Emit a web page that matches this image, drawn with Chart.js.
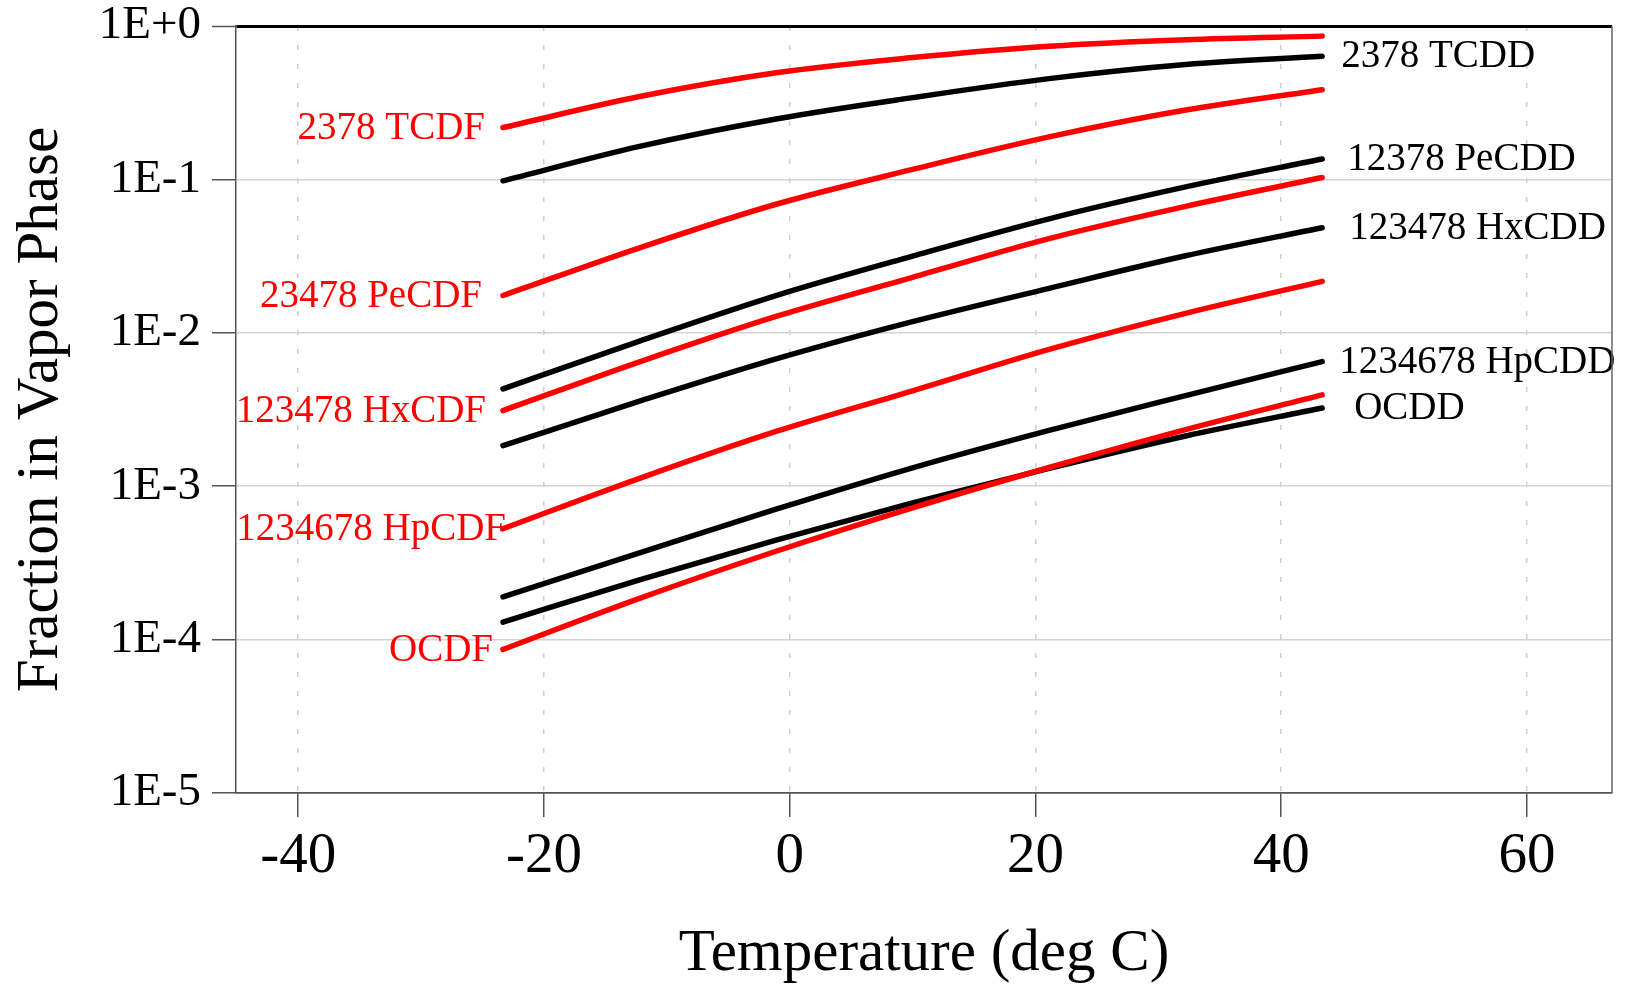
<!DOCTYPE html>
<html>
<head>
<meta charset="utf-8">
<script src="https://cdn.jsdelivr.net/npm/chart.js@4.4.0/dist/chart.umd.min.js"></script>
<style>
  html, body { margin: 0; padding: 0; background: #fff; }
</style>
</head>
<body>
<canvas id="chart" width="1625" height="984"></canvas>
<script>
// temperatures: -10 F to 110 F in 20 F steps, given in deg C
const temps = [-23.33, -12.22, -1.11, 10.0, 21.11, 32.22, 43.33];

// fraction in vapor phase, furans (red)
const tcdf2378    = [0.2178, 0.3467, 0.4955, 0.6223, 0.7379, 0.8147, 0.8590];
const pecdf23478  = [0.01750, 0.03581, 0.06887, 0.1161, 0.1892, 0.2831, 0.3846];
const hxcdf123478 = [0.003112, 0.006471, 0.01279, 0.02301, 0.04111, 0.06668, 0.1028];
const hpcdf       = [0.0005284, 0.001125, 0.002275, 0.004188, 0.007798, 0.01340, 0.02163];
const ocdf        = [0.0000863, 0.0001858, 0.0003767, 0.0007228, 0.001324, 0.002339, 0.003936];

// dioxins (black)
const tcdd2378    = [0.0979, 0.1641, 0.2477, 0.3412, 0.4539, 0.5610, 0.6353];
const pecdd12378  = [0.004315, 0.008831, 0.01750, 0.03162, 0.05534, 0.08933, 0.1358];
const hxcdd123478 = [0.001837, 0.003581, 0.006761, 0.01183, 0.01950, 0.03177, 0.04842];
const hpcdd       = [0.0001901, 0.0003681, 0.0007079, 0.001318, 0.002312, 0.003899, 0.006486];
const ocdd        = [0.0001300, 0.0002455, 0.0004457, 0.0007780, 0.001306, 0.002123, 0.003236];

const yTicks = [1e-5, 1e-4, 1e-3, 1e-2, 1e-1, 1];
const xTicks = [-40, -20, 0, 20, 40, 60];

const RED = "#ff0000";
const BLACK = "#000000";
const SERIF = '"Liberation Serif", "Times New Roman", serif';

Chart.defaults.font.family = SERIF;
Chart.defaults.color = "#000";

function makeSeries(label, values, color, side, dx) {
  return {
    label,
    data: temps.map((t, i) => ({ x: t, y: values[i] })),
    borderColor: color,
    backgroundColor: color,
    borderWidth: 5.5,
    borderCapStyle: "round",
    borderJoinStyle: "round",
    pointRadius: 0,
    cubicInterpolationMode: "monotone",
    fill: false,
    labelSide: side,
    labelDx: dx
  };
}

// red first so they sit on top of the black ones
const datasets = [
  makeSeries("2378 TCDF", tcdf2378, RED, "start", -18),
  makeSeries("23478 PeCDF", pecdf23478, RED, "start", -21),
  makeSeries("123478 HxCDF", hxcdf123478, RED, "start", -17),
  makeSeries("1234678 HpCDF", hpcdf, RED, "start", 3),
  makeSeries("OCDF", ocdf, RED, "start", -10),
  makeSeries("2378 TCDD", tcdd2378, BLACK, "end", 19),
  makeSeries("12378 PeCDD", pecdd12378, BLACK, "end", 25),
  makeSeries("123478 HxCDD", hxcdd123478, BLACK, "end", 27),
  makeSeries("1234678 HpCDD", hpcdd, BLACK, "end", 17),
  makeSeries("OCDD", ocdd, BLACK, "end", 32)
];

// ========== PLUGINS ========== //
const seriesLabels = {
  id: "seriesLabels",
  afterDatasetsDraw(chart) {
    const ctx = chart.ctx;
    ctx.save();
    ctx.font = "39px " + SERIF;
    ctx.textBaseline = "middle";
    chart.data.datasets.forEach((ds, i) => {
      const pts = chart.getDatasetMeta(i).data;
      const atStart = ds.labelSide === "start";
      const pt = atStart ? pts[0] : pts[pts.length - 1];
      ctx.fillStyle = ds.borderColor;
      ctx.textAlign = atStart ? "right" : "left";
      ctx.fillText(ds.label, pt.x + ds.labelDx, pt.y + 1);
    });
    ctx.restore();
  }
};

const frame = {
  id: "frame",
  afterDraw(chart) {
    const { ctx, chartArea } = chart;
    ctx.save();
    ctx.strokeStyle = "#666";
    ctx.lineWidth = 1.5;
    ctx.beginPath();
    ctx.moveTo(chartArea.right, chartArea.top);
    ctx.lineTo(chartArea.right, chartArea.bottom);
    ctx.stroke();
    ctx.restore();
  }
};

function expLabel(v) {
  const p = Math.round(Math.log10(v));
  return "1E" + (p >= 0 ? "+" + p : String(p));
}

function noEdgePadding(s) {
  s.paddingTop = 0;
  s.paddingBottom = 0;
  s.paddingLeft = 0;
  s.paddingRight = 0;
}

// ========== CHART ========== //
new Chart(document.getElementById("chart"), {
  type: "line",
  data: { datasets },
  plugins: [seriesLabels, frame],
  options: {
    responsive: false,
    animation: false,
    events: [],
    layout: { padding: { top: 26, right: 13, left: 0, bottom: 0 } },
    plugins: { legend: { display: false }, tooltip: { enabled: false } },
    scales: {
      x: {
        type: "linear",
        min: -45.06,
        max: 66.92,
        afterBuildTicks: s => { s.ticks = xTicks.map(v => ({ value: v })); },
        afterFit: s => { s.height = 191; noEdgePadding(s); },
        ticks: { font: { size: 57 }, color: "#000", padding: 6, maxRotation: 0, callback: v => String(v) },
        grid: { color: "#cfcfcf", lineWidth: 1.5, tickColor: "#555", tickWidth: 1.5, tickLength: 24, tickBorderDash: [] },
        border: { color: "#555", width: 1.5, dash: [5, 14] },
        title: { display: true, text: "Temperature (deg C)", font: { size: 59, lineHeight: 1.0 }, color: "#000", padding: { top: 0, bottom: 0 } }
      },
      y: {
        type: "logarithmic",
        min: 1e-5,
        max: 1,
        afterBuildTicks: s => { s.ticks = yTicks.map(v => ({ value: v })); },
        afterFit: s => { s.width = 236; noEdgePadding(s); },
        ticks: { font: { size: 47 }, color: "#000", padding: 11, autoSkip: false, callback: v => expLabel(v) },
        grid: {
          color: c => {
            if (!c.tick) return "#d4d4d4";
            if (c.tick.value === 1) return "#000";
            if (c.tick.value === 1e-5) return "#555";
            return "#d4d4d4";
          },
          lineWidth: c => (c.tick && c.tick.value === 1 ? 3 : 1.5),
          tickColor: "#555",
          tickWidth: 1.5,
          tickLength: 24
        },
        border: { color: "#555", width: 1.5 },
        title: { display: true, text: "Fraction in Vapor Phase", font: { size: 59 }, color: "#000", padding: { top: 6, bottom: 0 } }
      }
    }
  }
});
</script>
</body>
</html>
